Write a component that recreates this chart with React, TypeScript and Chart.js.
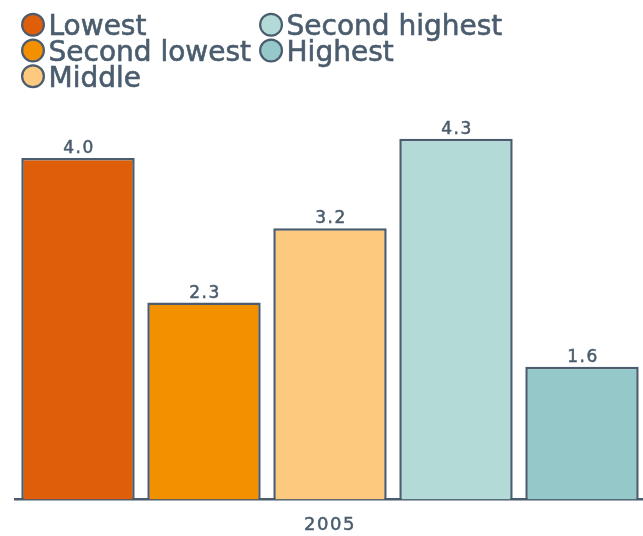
import React, { useEffect, useRef } from 'react';
import { Chart, registerables } from 'chart.js';

Chart.register(...registerables);

const categories = ['2005'];
const seriesNames = ['Lowest', 'Second lowest', 'Middle', 'Second highest', 'Highest'];
const lowestValues = [4.04];
const secondLowestValues = [2.33];
const middleValues = [3.21];
const secondHighestValues = [4.27];
const highestValues = [1.57];
const seriesColors = ['#df5e0a', '#f29000', '#fcc97e', '#b4dad8', '#94c8c9'];
const yMin = 0;
const yMax = 5;

const INK = '#4a5c6d';
const FONT = '"DejaVu Sans", sans-serif';

const spacingPlugin = {
  id: 'spacing',
  beforeDraw(chart: any) {
    (chart.ctx as any).letterSpacing = '1.5px';
  },
};

const valueLabelPlugin = {
  id: 'valueLabels',
  afterDatasetsDraw(chart: any) {
    const ctx = chart.ctx;
    ctx.save();
    (ctx as any).letterSpacing = '1.5px';
    ctx.font = `17px ${FONT}`;
    ctx.fillStyle = INK;
    ctx.strokeStyle = INK;
    ctx.lineWidth = 0.5;
    ctx.textAlign = 'center';
    ctx.textBaseline = 'alphabetic';
    chart.data.datasets.forEach((ds: any, i: number) => {
      const meta = chart.getDatasetMeta(i);
      meta.data.forEach((bar: any, j: number) => {
        const v = ds.data[j] as number;
        const t = v.toFixed(1);
        ctx.fillText(t, bar.x + 1, bar.y - 5);
        ctx.strokeText(t, bar.x + 1, bar.y - 5);
      });
    });
    ctx.restore();
  },
};

const columnLegendPlugin = {
  id: 'columnLegend',
  afterDraw(chart: any) {
    const ctx = chart.ctx;
    ctx.save();
    (ctx as any).letterSpacing = '0px';
    ctx.font = `28px ${FONT}`;
    const rows = 3;
    const items = chart.data.datasets;
    let colX = 21;
    for (let c = 0; c * rows < items.length; c++) {
      const colItems = items.slice(c * rows, c * rows + rows);
      let maxW = 0;
      colItems.forEach((ds: any, r: number) => {
        const cy = 24.7 + r * 25.8;
        const cx = colX + 12;
        ctx.beginPath();
        ctx.arc(cx, cy, 10.9, 0, Math.PI * 2);
        ctx.fillStyle = ds.backgroundColor;
        ctx.fill();
        ctx.lineWidth = 2.2;
        ctx.strokeStyle = INK;
        ctx.stroke();
        ctx.fillStyle = INK;
        ctx.lineWidth = 0.6;
        ctx.textAlign = 'left';
        ctx.textBaseline = 'alphabetic';
        ctx.fillText(ds.label, colX + 27.5, cy + 10.3);
        ctx.strokeText(ds.label, colX + 27.5, cy + 10.3);
        maxW = Math.max(maxW, ctx.measureText(ds.label).width);
      });
      colX += 27.5 + maxW + 8;
    }
    ctx.restore();
  },
};

export default function App() {
  const ref = useRef<HTMLCanvasElement | null>(null);

  useEffect(() => {
    if (!ref.current) return;
    const values = [lowestValues, secondLowestValues, middleValues, secondHighestValues, highestValues];
    const chart = new Chart(ref.current, {
      type: 'bar',
      data: {
        labels: categories,
        datasets: seriesNames.map((name, i) => ({
          label: name,
          data: values[i],
          backgroundColor: seriesColors[i],
          borderColor: INK,
          borderWidth: 2.5,
          categoryPercentage: 1.0,
          barPercentage: 0.9,
        })),
      },
      options: {
        animation: false,
        responsive: true,
        maintainAspectRatio: false,
        layout: { padding: { top: 77, left: 15, right: 15, bottom: 1 } },
        plugins: {
          legend: { display: false },
          tooltip: { enabled: false },
        },
        scales: {
          x: {
            grid: { display: false },
            border: { display: true, color: INK, width: 2.5 },
            ticks: {
              color: INK,
              padding: 7,
              font: { family: FONT, size: 18 },
              textStrokeColor: INK,
              textStrokeWidth: 0.5,
            },
          },
          y: { display: false, min: yMin, max: yMax },
        },
      },
      plugins: [spacingPlugin, valueLabelPlugin, columnLegendPlugin],
    });
    return () => chart.destroy();
  }, []);

  return (
    <div style={{ position: 'fixed', left: 0, top: 0, width: 643, height: 536, overflow: 'hidden', background: '#fff' }}>
      <div style={{ position: 'relative', width: 660, height: 544 }}>
        <canvas ref={ref} />
      </div>
    </div>
  );
}
